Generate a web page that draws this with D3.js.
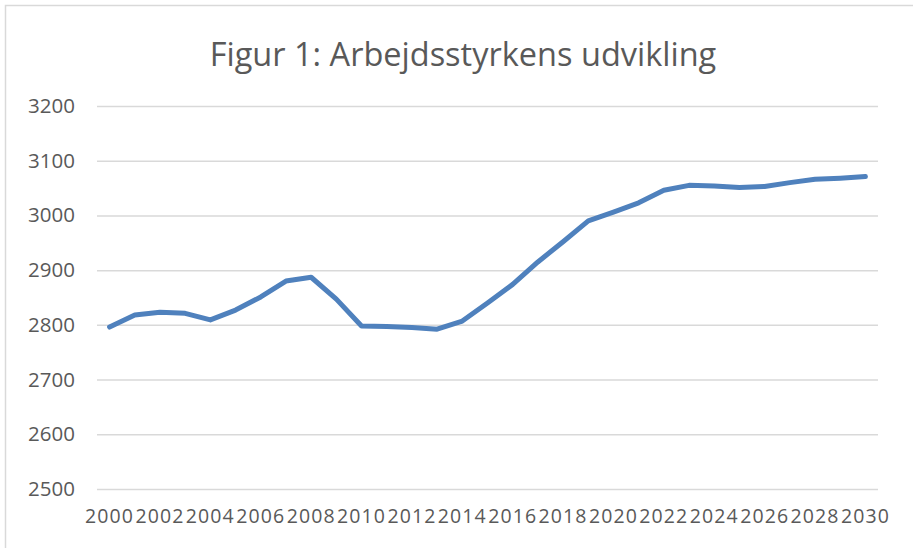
<!DOCTYPE html>
<html>
<head>
<meta charset="utf-8">
<script src="https://cdn.jsdelivr.net/npm/d3@7"></script>
<style>
  body { margin: 0; background: #fff; }
  text { font-family: "Open Sans", sans-serif; fill: #595959; }
</style>
</head>
<body>
<svg id="chart" width="913" height="548"></svg>
<script>
const years = d3.range(2000, 2031).map(String);
const workforce = [2796, 2818, 2823, 2821, 2809, 2827, 2851, 2880, 2887, 2847,
                   2798, 2797, 2795, 2792, 2807, 2840, 2874, 2915, 2952, 2990,
                   3006, 3023, 3046, 3055, 3054, 3051, 3053, 3060, 3066, 3068, 3071];
const yTicks = [2500, 2600, 2700, 2800, 2900, 3000, 3100, 3200];
const title = 'Figur 1: Arbejdsstyrkens udvikling';

const data = years.map((y, i) => ({ year: y, value: workforce[i] }));

const svg = d3.select('#chart'),
      margin = { top: 106, right: 35, bottom: 59, left: 97 },
      width = +svg.attr('width') - margin.left - margin.right,
      height = +svg.attr('height') - margin.top - margin.bottom;

// chart frame
svg.append('rect')
  .attr('x', 5.5).attr('y', 5.5)
  .attr('width', 1000).attr('height', 1000)
  .attr('fill', 'none')
  .attr('stroke', '#d9d9d9')
  .attr('stroke-width', 1.5);

const g = svg.append('g')
    .attr('transform', `translate(${margin.left},${margin.top})`);

const x = d3.scaleBand()
    .domain(years)
    .range([0, width]);

const y = d3.scaleLinear()
    .domain([2500, 3200])
    .range([height, 0]);

// gridlines + y labels
g.append('g')
  .call(d3.axisLeft(y).tickValues(yTicks).tickFormat(d3.format('d')).tickSize(-width).tickPadding(22))
  .call(a => a.select('.domain').remove())
  .call(a => a.selectAll('line').attr('stroke', '#d9d9d9').attr('stroke-width', 1.5))
  .call(a => a.selectAll('text')
    .style('font-family', '"Open Sans", sans-serif')
    .style('font-size', '20.5px')
    .attr('fill', '#595959'));

// x labels
g.append('g')
  .attr('transform', `translate(0,${height})`)
  .call(d3.axisBottom(x).tickValues(years.filter((d, i) => i % 2 === 0)).tickSize(0).tickPadding(20))
  .call(a => a.select('.domain').remove())
  .call(a => a.selectAll('text')
    .style('font-family', '"Open Sans", sans-serif')
    .style('font-size', '19.5px')
    .style('letter-spacing', '1.1px')
    .attr('fill', '#595959'));

const line = d3.line()
  .x(d => x(d.year) + x.bandwidth() / 2)
  .y(d => y(d.value));

g.append('path')
  .datum(data)
  .attr('d', line)
  .attr('fill', 'none')
  .attr('stroke', '#4f81bd')
  .attr('stroke-width', 5)
  .attr('stroke-linejoin', 'round')
  .attr('stroke-linecap', 'round');

svg.append('text')
  .attr('x', 463)
  .attr('y', 66)
  .attr('text-anchor', 'middle')
  .style('font-size', '32.5px')
  .text(title);
</script>
</body>
</html>
